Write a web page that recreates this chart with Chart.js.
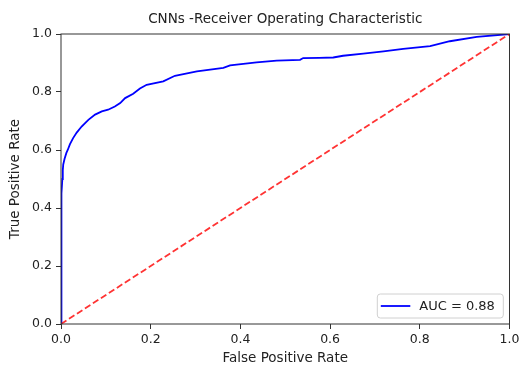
<!DOCTYPE html>
<html>
<head>
<meta charset="utf-8">
<script src="https://cdn.jsdelivr.net/npm/chart.js@4"></script>
<style>
  html, body { margin: 0; padding: 0; background: #fff; }
  #roc { display: block; }
</style>
</head>
<body>
<canvas id="roc" width="520" height="367"></canvas>
<script>
/* ROC curve */

var TITLE = 'CNNs -Receiver Operating Characteristic';
var X_LABEL = 'False Positive Rate';
var Y_LABEL = 'True Positive Rate';
var AUC_LABEL = 'AUC = 0.88';

var fpr = [0, 0, 0.0005, 0.001, 0.0015, 0.002, 0.003, 0.004, 0.005, 0.008, 0.012,
  0.015, 0.02, 0.027, 0.035, 0.046, 0.061, 0.076, 0.091, 0.105, 0.12, 0.132,
  0.143, 0.161, 0.176, 0.191, 0.228, 0.254, 0.303, 0.362, 0.377, 0.436, 0.481,
  0.533, 0.54, 0.576, 0.607, 0.629, 0.674, 0.719, 0.763, 0.823, 0.867, 0.927, 1.0];
var tpr = [0, 0.1, 0.2, 0.3, 0.4, 0.45, 0.5, 0.53, 0.55, 0.57, 0.59,
  0.6, 0.62, 0.641, 0.66, 0.681, 0.704, 0.722, 0.733, 0.739, 0.75, 0.762,
  0.779, 0.794, 0.812, 0.825, 0.837, 0.856, 0.871, 0.883, 0.892, 0.902, 0.908,
  0.911, 0.917, 0.918, 0.919, 0.925, 0.932, 0.94, 0.949, 0.958, 0.975, 0.99, 1.0];

var chanceX = [0, 1];
var chanceY = [0, 1];

var BLUE = '#0000ff';
var RED  = 'rgba(255,0,0,0.8)';
var INK  = '#222222';
var FONT = "'DejaVu Sans', sans-serif";

function toPoints(xs, ys) {
  return xs.map(function(x, i) { return { x: x, y: ys[i] }; });
}

/* matplotlib-like frame around the axes */
var framePlugin = {
  id: 'frame',
  afterDatasetsDraw: function(chart) {
    var a = chart.chartArea, ctx = chart.ctx;
    ctx.save();
    ctx.strokeStyle = '#333333';
    ctx.lineWidth = 1;
    ctx.strokeRect(a.left, a.top, a.right - a.left, a.bottom - a.top);
    ctx.restore();
  }
};

/* legend box inside the axes, lower right */
var innerLegend = {
  id: 'innerLegend',
  afterDraw: function(chart) {
    var a = chart.chartArea, ctx = chart.ctx;
    var ds = chart.data.datasets[0];
    var w = 126, h = 24;
    var x0 = a.right - 6.2 - w, y0 = a.bottom - 6 - h;
    ctx.save();
    ctx.beginPath();
    ctx.roundRect(x0, y0, w, h, 3);
    ctx.fillStyle = 'rgba(255,255,255,0.8)';
    ctx.fill();
    ctx.strokeStyle = '#d0d0d0';
    ctx.lineWidth = 1;
    ctx.stroke();
    ctx.beginPath();
    ctx.moveTo(x0 + 3.5, y0 + h / 2);
    ctx.lineTo(x0 + 33, y0 + h / 2);
    ctx.strokeStyle = ds.borderColor;
    ctx.lineWidth = ds.borderWidth;
    ctx.stroke();
    ctx.fillStyle = INK;
    ctx.font = '13px ' + FONT;
    ctx.textBaseline = 'middle';
    ctx.fillText(ds.label, x0 + 42, y0 + h / 2 + 0.5);
    ctx.restore();
  }
};

new Chart(document.getElementById('roc'), {
  type: 'scatter',
  data: {
    datasets: [{
      label: AUC_LABEL,
      data: toPoints(fpr, tpr),
      showLine: true,
      borderColor: BLUE,
      borderWidth: 1.8,
      pointRadius: 0,
      tension: 0,
      order: 2
    }, {
      label: 'chance',
      data: toPoints(chanceX, chanceY),
      showLine: true,
      borderColor: RED,
      borderWidth: 1.8,
      borderDash: [6.5, 3],
      pointRadius: 0,
      order: 1
    }]
  },
  options: {
    responsive: false,
    animation: false,
    layout: { padding: { left: 0, right: 10.5, top: 0, bottom: 0 } },
    plugins: {
      legend: { display: false },
      tooltip: { enabled: false },
      title: {
        display: true,
        text: TITLE,
        fullSize: false,
        color: INK,
        font: { family: FONT, size: 13.5, weight: 'normal' },
        padding: { top: 11.1, bottom: 6.7 }
      }
    },
    scales: {
      x: {
        type: 'linear',
        min: 0, max: 1,
        afterFit: function(s) { s.height = 43; s.paddingLeft = 0; s.paddingRight = 0; },
        border: { display: false },
        grid: { drawOnChartArea: false, drawTicks: true, tickLength: 5, color: '#333333' },
        ticks: {
          stepSize: 0.2,
          padding: 3,
          maxRotation: 0,
          color: INK,
          font: { family: FONT, size: 12.5 },
          callback: function(v) { return v.toFixed(1); }
        },
        title: {
          display: true,
          text: X_LABEL,
          color: INK,
          font: { family: FONT, size: 13.5 },
          padding: { top: 0, bottom: 0 }
        }
      },
      y: {
        type: 'linear',
        min: 0, max: 1,
        afterFit: function(s) { s.width = 61; s.paddingTop = 0; s.paddingBottom = 0; },
        border: { display: false },
        grid: { drawOnChartArea: false, drawTicks: true, tickLength: 5, color: '#333333' },
        ticks: {
          stepSize: 0.2,
          padding: 4,
          color: INK,
          font: { family: FONT, size: 12.5 },
          callback: function(v) { return v.toFixed(1); }
        },
        title: {
          display: true,
          text: Y_LABEL,
          color: INK,
          font: { family: FONT, size: 13.5 },
          padding: { top: 7.4, bottom: 0 }
        }
      }
    }
  },
  plugins: [framePlugin, innerLegend]
});
</script>
</body>
</html>
